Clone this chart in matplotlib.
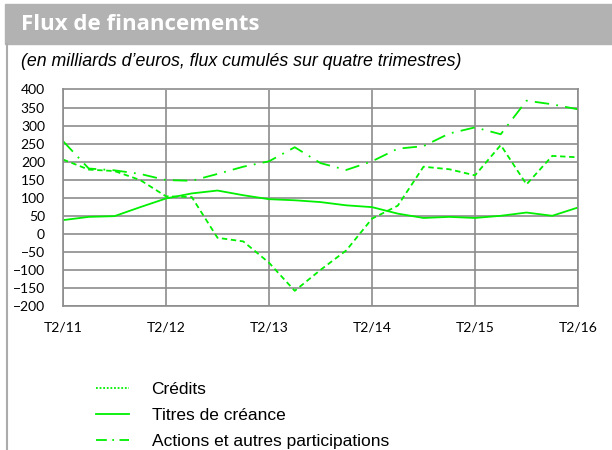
import matplotlib
matplotlib.use("Agg")
import matplotlib.pyplot as plt
from matplotlib.lines import Line2D
from matplotlib.patches import Rectangle

# Quarters T2/11 .. T2/16 (21 points)
quarters = list(range(21))
tick_pos = [0, 4, 8, 12, 16, 20]
tick_labels = ["T2/11", "T2/12", "T2/13", "T2/14", "T2/15", "T2/16"]

credits = [206, 178, 174, 149, 104, 102, -11, -21, -80, -158, -100,
           -46, 42, 78, 186, 179, 162, 246, 137, 216, 212]
titres = [38, 47, 49, 74, 98, 112, 120, 107, 96, 93, 88,
          79, 74, 56, 44, 47, 44, 50, 59, 50, 73]
actions = [257, 181, 176, 166, 149, 147, 166, 186, 201, 240, 196,
           177, 201, 236, 243, 278, 295, 276, 369, 359, 345]

green = "#00f000"
grid_col = "#8c8c8c"

fig = plt.figure(figsize=(6.12, 4.5), dpi=100)

# Title bar
fig.patches.append(Rectangle((5 / 612, 1 - 44 / 450), 1, 40 / 450,
                             transform=fig.transFigure, color="#b2b2b2", zorder=0))
fig.text(21 / 612, 1 - 24 / 450, "Flux de financements", color="white",
         fontsize=16, fontweight="bold", family="Open Sans", va="center")
# Left border
fig.add_artist(Line2D([7 / 612, 7 / 612], [0, 1 - 44 / 450], transform=fig.transFigure,
                      color="#ababab", lw=1.5))

fig.text(21 / 612, 1 - 62 / 450,
         "(en milliards d\u2019euros, flux cumulés sur quatre trimestres)",
         fontsize=12.75, style="italic", family="Liberation Sans", va="center")

ax = fig.add_axes([63 / 612, 1 - 306 / 450, 515 / 612, 216.5 / 450])
ax.plot(quarters, credits, color=green, lw=1.3, ls=(0, (3, 2)))
ax.plot(quarters, titres, color=green, lw=1.3, ls="-")
ax.plot(quarters, actions, color=green, lw=1.3, ls=(0, (8, 4, 1, 4)))

ax.set_xlim(0, 20)
ax.set_ylim(-200, 400)
ax.set_yticks(range(-200, 401, 50))
ax.set_xticks(tick_pos)
ax.set_xticklabels(tick_labels)
ax.tick_params(length=0, labelsize=10)
ax.tick_params(axis="x", pad=11)
ax.tick_params(axis="y", pad=13)
for lab in ax.get_xticklabels() + ax.get_yticklabels():
    lab.set_family("Lato")
ax.grid(True, color=grid_col, lw=1.2)
ax.set_axisbelow(True)
for s in ax.spines.values():
    s.set_color(grid_col)
    s.set_linewidth(1.2)

handles = [
    Line2D([], [], color=green, lw=1.3, ls=(0, (1, 1))),
    Line2D([], [], color=green, lw=1.3, ls="-"),
    Line2D([], [], color=green, lw=1.3, ls=(0, (6, 3, 1, 3))),
]
labels = ["Crédits", "Titres de créance", "Actions et autres participations"]
fig.legend(handles, labels, loc="upper left", bbox_to_anchor=(80 / 612, 1 - 366 / 450),
           frameon=False, prop={"family": "Liberation Sans", "size": 12.5},
           borderpad=0.4, handlelength=1.95, handletextpad=1.27, labelspacing=0.64)

fig.savefig("out.png", dpi=100)
